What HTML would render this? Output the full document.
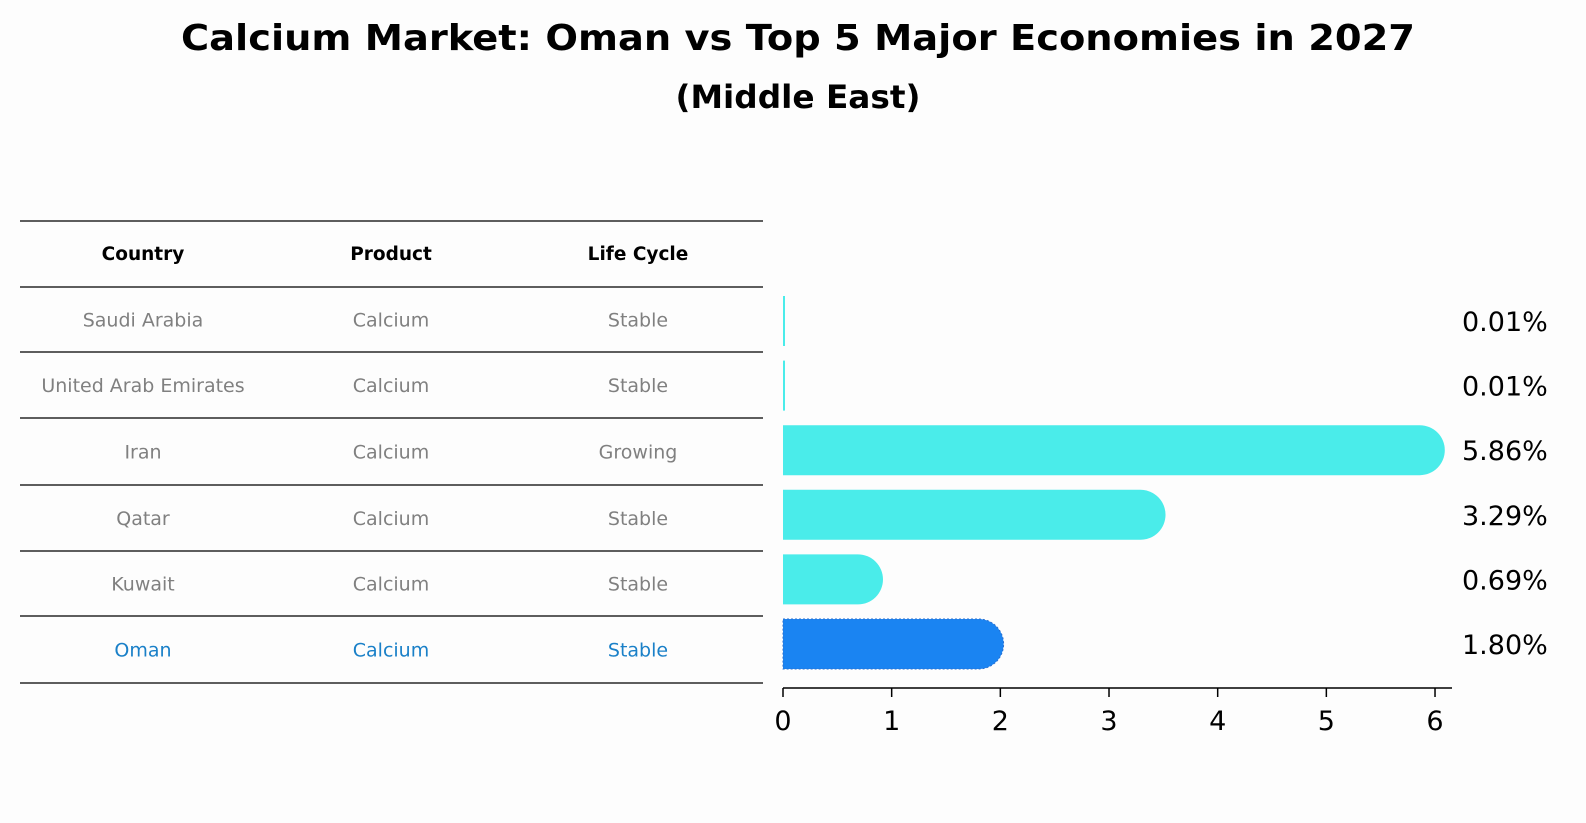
<!DOCTYPE html>
<html><head><meta charset="utf-8"><style>
html,body{margin:0;padding:0;overflow:hidden;background:#fdfdfd;font-family:"DejaVu Sans","Liberation Sans",sans-serif;}
#c{position:relative;width:1586px;height:823px;overflow:hidden;}
svg{display:block;}
</style></head><body>
<div id="c">
<svg width="1586" height="823">
<text x="798" y="50" text-anchor="middle" font-size="36" font-weight="bold" textLength="1234" lengthAdjust="spacingAndGlyphs">Calcium Market: Oman vs Top 5 Major Economies in 2027</text>
<text x="798" y="108" text-anchor="middle" font-size="32" font-weight="bold" textLength="245" lengthAdjust="spacingAndGlyphs">(Middle East)</text>
<g id="table"></g>
<g id="bars"></g>
</svg>
</div>
<script>
const countries=["Saudi Arabia","United Arab Emirates","Iran","Qatar","Kuwait","Oman"];
const products=["Calcium","Calcium","Calcium","Calcium","Calcium","Calcium"];
const lifecycles=["Stable","Stable","Growing","Stable","Stable","Stable"];
const values=[0.01,0.01,5.86,3.29,0.69,1.80];
const labels=["0.01%","0.01%","5.86%","3.29%","0.69%","1.80%"];
const ticks=[0,1,2,3,4,5,6];
const NS="http://www.w3.org/2000/svg";
function mk(t,a,p,txt){const e=document.createElementNS(NS,t);for(const k in a)e.setAttribute(k,a[k]);if(txt!=null)e.textContent=txt;p.appendChild(e);return e;}
const xs=v=>783+v*108.67;
const rowY=i=>321+i*64.6;
const tb=document.getElementById('table');
const lines=[221,287,352,418,485,551,616,683];
lines.forEach((y,i)=>{const l=mk('line',{x1:20,x2:763,y1:y,y2:y,stroke:'#000','stroke-width':1.2},tb);

});
const cx=[143,391,638];
["Country","Product","Life Cycle"].forEach((h,j)=>{const t=mk('text',{x:cx[j],y:260,'text-anchor':'middle','font-size':18.5,'font-weight':'bold'},tb,h);

});
countries.forEach((c,i)=>{const y=(lines[i+1]+lines[i+2])/2+7;const col=i===5?'#1a80c8':'#808080';
[c,products[i],lifecycles[i]].forEach((v,j)=>{const t=mk('text',{x:cx[j],y:y,'text-anchor':'middle','font-size':19,fill:col},tb,v);

});});
const bg=document.getElementById('bars');
values.forEach((v,i)=>{const yc=rowY(i),h=50,r=25,x0=xs(0),x1=xs(v);const col=i===5?'#1a84f2':'#4aecea';
let d;
if(v<0.05){d=`M${x0},${yc-h/2}h2v${h}h-2z`;}
else d=`M${x0},${yc-h/2}H${x1}A${r},${r} 0 0 1 ${x1},${yc+h/2}H${x0}Z`;
const p=mk('path',{d:d,fill:col},bg);
if(i===5){p.setAttribute('stroke','#2a6fd0');p.setAttribute('stroke-dasharray','2,2');}


const t=mk('text',{x:1462,y:yc+10,'font-size':27},bg,labels[i]);

});
const ax=mk('line',{x1:783,x2:1452,y1:688,y2:688,stroke:'#000','stroke-width':1.5},bg);


ticks.forEach(v=>{const tk=mk('line',{x1:xs(v),x2:xs(v),y1:688,y2:697,stroke:'#000','stroke-width':1.5},bg);


const t=mk('text',{x:xs(v),y:730,'text-anchor':'middle','font-size':27},bg,String(v));

});
</script>
</body></html>
